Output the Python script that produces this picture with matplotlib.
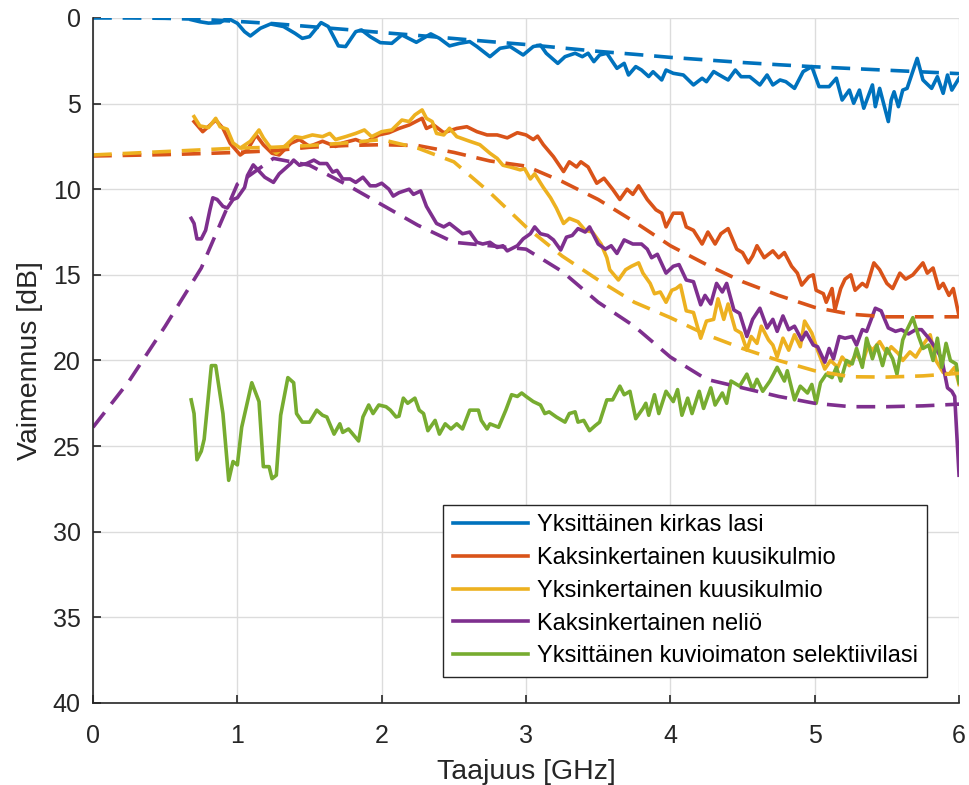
import numpy as np
import matplotlib.pyplot as plt

plt.rcParams['font.family'] = ['Liberation Sans', 'DejaVu Sans']

labels = [
    'Yksittäinen kirkas lasi',
    'Kaksinkertainen kuusikulmio',
    'Yksinkertainen kuusikulmio',
    'Kaksinkertainen neliö',
    'Yksittäinen kuvioimaton selektiivilasi',
]
colors = ['#0072BD', '#D95319', '#EDB120', '#7E2F8E', '#77AC30']

# measured attenuation (solid)
f_blue = [0.68, 0.74, 0.80, 0.88, 0.93, 1.00, 1.05, 1.09, 1.16, 1.23, 1.32, 1.40, 1.45, 1.50, 1.58, 1.63,
          1.70, 1.75, 1.82, 1.86, 1.92, 1.99, 2.07, 2.14, 2.24, 2.34, 2.40, 2.47, 2.54, 2.61, 2.66, 2.75,
          2.82, 2.89, 2.98, 3.05, 3.10, 3.14, 3.22, 3.27, 3.34, 3.39, 3.43, 3.47, 3.51, 3.56, 3.63, 3.68,
          3.71, 3.76, 3.80, 3.85, 3.88, 3.94, 3.97, 4.02, 4.09, 4.16, 4.22, 4.25, 4.30, 4.34, 4.40, 4.45,
          4.49, 4.55, 4.62, 4.67, 4.71, 4.76, 4.80, 4.86, 4.92, 4.98, 5.03, 5.10, 5.15, 5.19, 5.24, 5.27,
          5.31, 5.34, 5.40, 5.42, 5.45, 5.51, 5.53, 5.55, 5.58, 5.61, 5.64, 5.71, 5.75, 5.81, 5.85, 5.89,
          5.92, 5.95, 6.00]
a_blue = [0.10, 0.22, 0.30, 0.27, 0.00, 0.31, 0.80, 1.05, 0.60, 0.35, 0.50, 0.90, 1.19, 1.09, 0.27, 0.50,
          1.63, 1.67, 0.80, 0.70, 1.09, 1.44, 1.48, 0.99, 1.42, 0.93, 1.19, 1.63, 1.48, 1.38, 1.67, 2.26,
          1.77, 1.67, 2.16, 1.67, 1.58, 2.06, 2.65, 2.26, 2.06, 2.26, 2.06, 2.55, 2.16, 2.06, 2.94, 2.65,
          3.33, 2.84, 3.04, 3.42, 3.14, 3.62, 3.04, 3.23, 3.33, 3.91, 3.52, 3.72, 3.13, 3.33, 3.62, 3.04,
          3.43, 3.43, 3.91, 3.33, 3.91, 3.62, 3.72, 4.11, 3.13, 2.84, 4.01, 4.01, 3.52, 4.79, 4.21, 4.98,
          4.21, 5.27, 3.91, 5.18, 4.11, 6.05, 4.79, 4.31, 5.18, 4.21, 4.11, 2.36, 3.62, 4.11, 3.43, 4.40,
          3.33, 4.21, 3.52]

f_orange = [0.70, 0.76, 0.85, 0.90, 0.95, 1.02, 1.07, 1.13, 1.18, 1.24, 1.29, 1.37, 1.43, 1.50, 1.59, 1.68,
            1.73, 1.82, 1.88, 1.98, 2.05, 2.12, 2.19, 2.28, 2.31, 2.36, 2.43, 2.52, 2.59, 2.66, 2.73, 2.80,
            2.87, 2.94, 3.00, 3.05, 3.08, 3.12, 3.19, 3.26, 3.30, 3.35, 3.38, 3.43, 3.49, 3.54, 3.60, 3.65,
            3.70, 3.74, 3.78, 3.84, 3.90, 3.94, 3.97, 4.02, 4.08, 4.11, 4.16, 4.22, 4.26, 4.31, 4.35, 4.40,
            4.46, 4.50, 4.54, 4.57, 4.60, 4.65, 4.71, 4.75, 4.79, 4.84, 4.88, 4.91, 4.96, 4.99, 5.01, 5.06,
            5.08, 5.12, 5.14, 5.18, 5.21, 5.25, 5.28, 5.33, 5.36, 5.41, 5.45, 5.50, 5.54, 5.59, 5.63, 5.68,
            5.75, 5.78, 5.82, 5.86, 5.89, 5.93, 5.96, 6.00]
a_orange = [6.05, 6.64, 5.96, 6.44, 7.32, 8.00, 7.70, 6.83, 7.40, 7.90, 8.00, 7.32, 7.10, 7.50, 7.20, 7.50,
            7.30, 7.10, 7.30, 6.83, 6.70, 6.45, 6.25, 5.86, 6.45, 6.25, 6.70, 6.45, 6.35, 6.64, 6.83, 6.83,
            7.00, 6.70, 6.83, 7.10, 6.90, 7.40, 8.10, 8.97, 8.40, 8.70, 8.40, 8.70, 9.65, 9.36, 10.0, 10.6,
            10.0, 10.3, 9.80, 10.6, 11.2, 11.4, 12.2, 11.4, 11.4, 12.2, 12.4, 13.2, 12.5, 13.2, 12.6, 12.3,
            13.5, 13.7, 14.3, 13.9, 13.3, 14.0, 13.6, 14.0, 13.7, 14.5, 14.9, 15.6, 15.1, 15.0, 15.9, 16.1,
            16.6, 15.8, 17.05, 15.8, 15.25, 15.0, 15.9, 15.5, 15.7, 14.3, 14.7, 15.5, 15.8, 14.9, 15.25, 15.0,
            14.3, 14.9, 14.6, 15.8, 15.5, 16.2, 15.8, 17.4]

f_yellow = [0.70, 0.74, 0.80, 0.85, 0.88, 0.93, 0.97, 1.02, 1.09, 1.15, 1.18, 1.24, 1.27, 1.34, 1.40, 1.45,
            1.52, 1.59, 1.64, 1.68, 1.75, 1.82, 1.88, 1.93, 2.00, 2.07, 2.14, 2.19, 2.23, 2.28, 2.31, 2.35,
            2.38, 2.43, 2.47, 2.52, 2.61, 2.68, 2.75, 2.80, 2.84, 2.89, 2.96, 2.99, 3.03, 3.06, 3.12, 3.17,
            3.21, 3.26, 3.30, 3.36, 3.41, 3.46, 3.52, 3.56, 3.58, 3.64, 3.69, 3.73, 3.78, 3.81, 3.86, 3.89,
            3.93, 3.97, 4.01, 4.04, 4.07, 4.11, 4.16, 4.21, 4.25, 4.30, 4.33, 4.37, 4.40, 4.45, 4.49, 4.53,
            4.56, 4.60, 4.63, 4.68, 4.71, 4.74, 4.78, 4.82, 4.86, 4.90, 4.93, 4.98, 5.02, 5.07, 5.11, 5.16,
            5.19, 5.24, 5.29, 5.33, 5.37, 5.40, 5.45, 5.50, 5.53, 5.58, 5.61, 5.66, 5.70, 5.75, 5.80, 5.84,
            5.89, 5.93, 5.97, 6.00]
a_yellow = [5.76, 6.30, 6.40, 5.86, 6.35, 6.50, 7.30, 7.60, 7.20, 6.54, 7.00, 7.70, 7.90, 7.40, 6.93, 7.00,
            6.83, 6.93, 6.74, 7.10, 6.93, 6.74, 6.54, 6.93, 6.64, 6.54, 5.96, 6.05, 5.66, 5.37, 5.86, 6.05,
            6.74, 6.83, 6.44, 6.93, 7.20, 7.40, 7.90, 8.20, 8.60, 8.70, 8.87, 8.80, 9.40, 9.10, 9.90, 10.5,
            11.1, 12.0, 11.7, 11.9, 12.4, 12.5, 13.2, 14.0, 14.7, 15.3, 14.7, 14.5, 14.3, 14.9, 15.5, 16.1,
            16.0, 16.6, 15.9, 15.8, 15.6, 17.1, 17.2, 18.7, 17.7, 17.6, 16.4, 17.6, 16.7, 18.2, 18.4, 19.4,
            18.6, 19.0, 18.0, 18.8, 19.1, 19.8, 18.7, 19.4, 18.5, 19.2, 17.7, 18.4, 19.4, 20.5, 20.0, 20.4,
            19.8, 20.3, 19.6, 20.2, 19.1, 19.4, 18.9, 19.6, 19.2, 19.6, 20.0, 19.5, 19.8, 19.1, 18.5, 20.0,
            20.7, 20.8, 20.4, 21.4]

f_purple = [0.68, 0.70, 0.72, 0.75, 0.78, 0.81, 0.83, 0.86, 0.90, 0.93, 0.97, 1.00, 1.05, 1.07, 1.11, 1.19,
            1.25, 1.29, 1.37, 1.39, 1.43, 1.48, 1.53, 1.57, 1.62, 1.66, 1.69, 1.73, 1.78, 1.82, 1.87, 1.92,
            1.96, 2.00, 2.05, 2.08, 2.12, 2.19, 2.22, 2.27, 2.31, 2.38, 2.43, 2.47, 2.56, 2.61, 2.66, 2.70,
            2.75, 2.80, 2.84, 2.87, 2.94, 2.98, 3.03, 3.06, 3.10, 3.15, 3.19, 3.24, 3.28, 3.32, 3.36, 3.41,
            3.44, 3.50, 3.55, 3.59, 3.63, 3.68, 3.74, 3.80, 3.84, 3.87, 3.91, 3.97, 4.02, 4.06, 4.11, 4.16,
            4.21, 4.24, 4.28, 4.32, 4.36, 4.39, 4.44, 4.48, 4.53, 4.57, 4.62, 4.67, 4.71, 4.74, 4.78, 4.82,
            4.86, 4.91, 4.94, 4.99, 5.02, 5.07, 5.10, 5.13, 5.17, 5.21, 5.26, 5.29, 5.33, 5.36, 5.42, 5.46,
            5.51, 5.56, 5.60, 5.65, 5.70, 5.74, 5.79, 5.84, 5.88, 5.92, 5.95, 5.97, 6.00]
a_purple = [11.7, 12.0, 12.9, 12.9, 12.4, 11.2, 10.5, 10.6, 11.0, 11.1, 10.6, 10.5, 9.90, 9.20, 8.58, 9.30,
            9.60, 9.10, 8.50, 8.30, 8.60, 8.50, 8.30, 8.50, 8.50, 9.00, 8.90, 9.40, 9.40, 9.60, 9.30, 9.80,
            9.80, 9.65, 10.0, 10.4, 10.2, 10.0, 10.3, 10.1, 11.0, 12.0, 12.2, 12.0, 12.6, 12.5, 13.1, 13.2,
            13.1, 13.4, 13.3, 13.6, 13.3, 12.9, 12.6, 12.2, 12.6, 12.7, 12.96, 13.55, 12.8, 12.7, 12.3, 12.5,
            12.2, 13.2, 13.5, 13.3, 13.75, 12.96, 13.2, 13.2, 13.5, 14.0, 13.8, 14.9, 14.5, 14.4, 15.3, 15.4,
            16.75, 16.2, 16.7, 15.5, 16.0, 15.5, 17.05, 17.25, 18.6, 17.6, 16.95, 18.1, 17.6, 18.3, 17.4, 18.2,
            18.0, 18.8, 18.35, 19.1, 19.2, 20.1, 19.3, 19.9, 18.6, 18.7, 18.6, 19.1, 18.2, 18.3, 16.95, 17.1,
            18.1, 18.3, 18.2, 18.45, 18.2, 18.2, 18.7, 19.3, 19.9, 21.6, 21.8, 22.1, 26.7]

f_green = [0.68, 0.70, 0.72, 0.75, 0.77, 0.82, 0.85, 0.90, 0.94, 0.97, 1.00, 1.03, 1.10, 1.15, 1.18, 1.22,
           1.24, 1.27, 1.30, 1.35, 1.39, 1.41, 1.45, 1.50, 1.55, 1.59, 1.62, 1.67, 1.71, 1.73, 1.77, 1.80,
           1.84, 1.87, 1.91, 1.94, 1.98, 2.03, 2.06, 2.10, 2.12, 2.15, 2.18, 2.23, 2.26, 2.29, 2.32, 2.37,
           2.40, 2.44, 2.48, 2.52, 2.56, 2.61, 2.67, 2.69, 2.73, 2.75, 2.81, 2.86, 2.90, 2.94, 2.97, 3.00,
           3.05, 3.10, 3.13, 3.16, 3.21, 3.27, 3.30, 3.34, 3.36, 3.40, 3.44, 3.48, 3.51, 3.56, 3.60, 3.65,
           3.68, 3.72, 3.76, 3.81, 3.83, 3.85, 3.89, 3.92, 3.97, 4.02, 4.05, 4.08, 4.12, 4.15, 4.20, 4.23,
           4.28, 4.31, 4.36, 4.39, 4.42, 4.48, 4.53, 4.57, 4.60, 4.64, 4.69, 4.74, 4.79, 4.81, 4.86, 4.90,
           4.95, 4.98, 5.01, 5.04, 5.08, 5.12, 5.15, 5.18, 5.22, 5.26, 5.29, 5.33, 5.36, 5.40, 5.43, 5.47,
           5.50, 5.54, 5.57, 5.61, 5.64, 5.68, 5.72, 5.75, 5.79, 5.82, 5.85, 5.88, 5.91, 5.94, 5.98, 6.00]
a_green = [22.3, 23.1, 25.8, 25.3, 24.6, 20.3, 20.3, 23.1, 27.0, 25.9, 26.1, 23.9, 21.3, 22.4, 26.2, 26.2,
           26.9, 26.7, 23.2, 21.0, 21.3, 23.1, 23.6, 23.6, 22.9, 23.2, 23.3, 24.3, 23.7, 24.2, 24.0, 24.3,
           24.7, 23.3, 22.6, 23.1, 22.6, 22.7, 22.9, 23.3, 23.25, 22.2, 22.5, 22.2, 22.9, 23.1, 24.1, 23.5,
           24.3, 23.7, 24.0, 23.7, 24.0, 22.9, 22.9, 23.5, 24.0, 23.7, 23.9, 22.9, 22.0, 22.1, 21.9, 22.1,
           22.4, 22.6, 23.1, 23.0, 23.3, 23.6, 23.1, 23.0, 23.6, 23.5, 24.1, 23.8, 23.6, 22.3, 22.3, 21.5,
           22.0, 21.8, 23.4, 22.8, 22.5, 23.2, 22.0, 23.1, 21.8, 22.4, 21.7, 23.2, 22.2, 23.1, 21.8, 22.8,
           21.6, 22.6, 21.9, 22.5, 21.2, 21.5, 20.8, 21.7, 21.1, 21.8, 21.2, 20.4, 21.2, 20.6, 22.3, 21.5,
           21.9, 21.4, 22.5, 21.3, 20.8, 21.0, 20.4, 21.2, 20.0, 20.2, 19.3, 20.4, 18.7, 19.9, 19.1, 20.3,
           19.3, 19.9, 20.8, 18.8, 18.2, 17.5, 18.6, 19.3, 19.1, 20.0, 18.7, 20.4, 19.0, 20.0, 20.2, 21.3]

# fitted models (dashed)
f_fit = [0.0, 0.25, 0.5, 0.75, 1.0, 1.25, 1.5, 1.75, 2.0, 2.25, 2.5, 2.75, 3.0, 3.25, 3.5, 3.75,
         4.0, 4.25, 4.5, 4.75, 5.0, 5.25, 5.5, 5.75, 6.0]
fit_blue = [0.0, 0.0, 0.02, 0.08, 0.2, 0.33, 0.5, 0.67, 0.85, 1.02, 1.2, 1.38, 1.55, 1.75, 1.95, 2.12,
            2.3, 2.45, 2.6, 2.73, 2.85, 2.95, 3.05, 3.15, 3.25]
fit_orange = [8.06, 8.02, 7.98, 7.92, 7.85, 7.75, 7.55, 7.45, 7.4, 7.45, 7.85, 8.35, 8.65, 9.55, 10.6, 11.9,
              13.3, 14.4, 15.4, 16.2, 16.9, 17.3, 17.45, 17.45, 17.45]
fit_yellow = [8.0, 7.9, 7.8, 7.7, 7.6, 7.55, 7.45, 7.3, 7.1, 7.6, 8.4, 10.2, 12.2, 13.9, 15.3, 16.6,
              17.5, 18.5, 19.3, 20.0, 20.6, 20.95, 20.97, 20.9, 20.75]
fit_purple = [23.9, 21.2, 18.0, 14.6, 9.7, 8.2, 8.6, 9.7, 10.9, 12.1, 13.1, 13.3, 13.5, 14.8, 16.6, 18.0,
              19.8, 21.1, 21.6, 22.1, 22.5, 22.7, 22.7, 22.65, 22.55]

measured = [(f_blue, a_blue), (f_orange, a_orange), (f_yellow, a_yellow),
            (f_purple, a_purple), (f_green, a_green)]
fits = [fit_blue, fit_orange, fit_yellow, fit_purple]

fig = plt.figure(figsize=(9.7, 7.85), dpi=100)
ax = fig.add_axes([0.0959, 0.1045, 0.8928, 0.8726])

for (f, a), c, lab in zip(measured, colors, labels):
    ax.plot(f, a, color=c, lw=2.6, label=lab, solid_joinstyle='round')
for fy, c in zip(fits, colors):
    ax.plot(f_fit, fy, color=c, lw=2.6, ls=(0, (5.2, 3.0)))

ax.set_xlim(0, 6)
ax.set_ylim(40, 0)
ax.set_xticks(np.arange(0, 7, 1))
ax.set_yticks(np.arange(0, 45, 5))
ax.grid(True, color='#dcdcdc', lw=1)
ax.set_axisbelow(True)
for s in ['top', 'right']:
    ax.spines[s].set_visible(False)
for s in ['left', 'bottom']:
    ax.spines[s].set_color('#262626')
    ax.spines[s].set_linewidth(1.2)
ax.tick_params(direction='in', length=6, width=1.2, colors='#262626', labelsize=18, pad=9)
ax.tick_params(axis='x', pad=15)
ax.set_xlabel('Taajuus [GHz]', fontsize=20.5, color='#262626', labelpad=8)
ax.set_ylabel('Vaimennus [dB]', fontsize=20.5, color='#262626', labelpad=7)

leg = ax.legend(loc='lower right', bbox_to_anchor=(0.963, 0.038), borderaxespad=0,
                fontsize=17, handlelength=3.2, handletextpad=0.35, labelspacing=0.46,
                fancybox=False, framealpha=1, edgecolor='#262626', borderpad=0.4)
leg.get_frame().set_linewidth(1.0)

fig.savefig('out.png', dpi=100)
